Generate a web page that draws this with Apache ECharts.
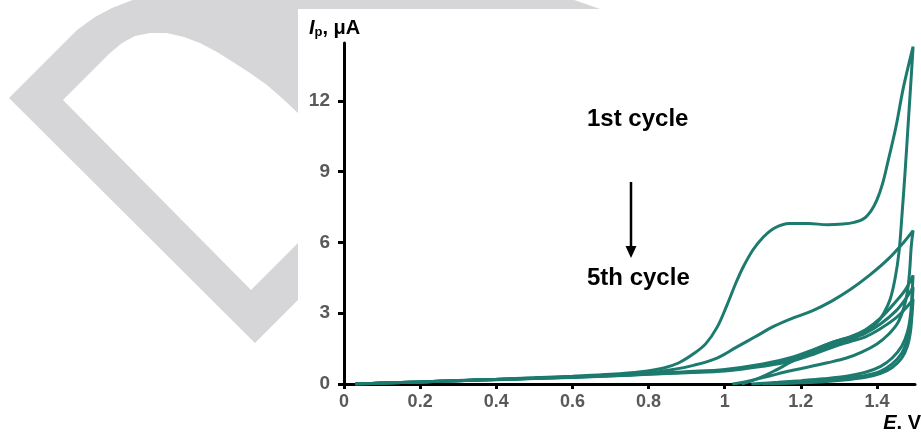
<!DOCTYPE html>
<html>
<head>
<meta charset="utf-8">
<script src="https://cdn.jsdelivr.net/npm/echarts@6/dist/echarts.min.js"></script>
<style>
html,body{margin:0;padding:0;background:#fff;}
#chart{width:921px;height:432px;}
</style>
</head>
<body>
<div id="chart"></div>
<script>
// ---- data: E (V) vs Ip (µA), five CV cycles ----
var cycle1Forward = [[0.03,0],[0.1,0.04],[0.2,0.09],[0.3,0.15],[0.4,0.2],[0.5,0.26],[0.6,0.33],[0.7,0.41],[0.78,0.52],[0.84,0.68],[0.88,0.9],[0.92,1.3],[0.95,1.7],[0.98,2.4],[1.005,3.3],[1.03,4.3],[1.05,5.0],[1.075,5.7],[1.1,6.2],[1.13,6.6],[1.17,6.8],[1.22,6.8],[1.27,6.75],[1.31,6.78],[1.34,6.85],[1.365,7.0],[1.385,7.35],[1.4,7.8],[1.415,8.5],[1.43,9.5],[1.45,10.9],[1.47,12.6],[1.495,14.3]];
var cycle1Reverse = [[1.49,13.0],[1.482,11.0],[1.474,9.0],[1.466,7.2],[1.458,5.6],[1.448,4.5],[1.435,3.6],[1.418,3.0],[1.4,2.6],[1.37,2.25],[1.33,2.0],[1.29,1.8],[1.25,1.55],[1.21,1.25],[1.17,0.9],[1.13,0.55],[1.09,0.25],[1.055,0.05],[1.045,0]];
var cycle2Forward = [[0.03,0],[0.1,0.04],[0.2,0.09],[0.3,0.14],[0.4,0.19],[0.5,0.25],[0.6,0.31],[0.7,0.38],[0.8,0.47],[0.86,0.6],[0.92,0.8],[0.98,1.1],[1.03,1.55],[1.08,2.0],[1.13,2.45],[1.18,2.8],[1.23,3.1],[1.28,3.5],[1.33,4.0],[1.38,4.6],[1.43,5.3],[1.47,6.0],[1.495,6.5]];
var cycle2Reverse = [[1.49,5.8],[1.486,4.8],[1.48,3.9],[1.47,3.2],[1.455,2.6],[1.43,2.1],[1.4,1.7],[1.36,1.35],[1.32,1.1],[1.27,0.9],[1.22,0.72],[1.17,0.55],[1.12,0.35],[1.07,0.15],[1.03,0.02],[1.02,0]];
var cycle3Forward = [[0.03,0],[0.1,0.04],[0.2,0.09],[0.3,0.14],[0.4,0.19],[0.5,0.24],[0.6,0.3],[0.7,0.36],[0.8,0.43],[0.9,0.52],[1.0,0.62],[1.1,0.85],[1.18,1.15],[1.24,1.5],[1.29,1.8],[1.33,2.0],[1.37,2.3],[1.41,2.8],[1.45,3.5],[1.475,4.0],[1.495,4.6]];
var cycle3Reverse = [[1.492,3.8],[1.488,2.9],[1.48,2.2],[1.465,1.6],[1.44,1.1],[1.41,0.75],[1.37,0.5],[1.32,0.33],[1.26,0.22],[1.2,0.14],[1.14,0.07],[1.09,0.02],[1.07,0]];
var cycle4Forward = [[0.03,0],[0.1,0.04],[0.2,0.09],[0.3,0.14],[0.4,0.19],[0.5,0.24],[0.6,0.29],[0.7,0.35],[0.8,0.42],[0.9,0.5],[1.0,0.58],[1.1,0.8],[1.18,1.05],[1.24,1.4],[1.29,1.7],[1.33,1.9],[1.37,2.15],[1.41,2.55],[1.45,3.1],[1.475,3.6],[1.495,4.1]];
var cycle4Reverse = [[1.492,3.3],[1.488,2.5],[1.48,1.9],[1.465,1.3],[1.44,0.85],[1.41,0.55],[1.37,0.36],[1.32,0.24],[1.26,0.15],[1.2,0.09],[1.14,0.04],[1.1,0]];
var cycle5Forward = [[0.03,0],[0.1,0.04],[0.2,0.09],[0.3,0.14],[0.4,0.18],[0.5,0.23],[0.6,0.28],[0.7,0.34],[0.8,0.41],[0.9,0.48],[1.0,0.55],[1.1,0.75],[1.18,0.98],[1.24,1.3],[1.29,1.6],[1.33,1.8],[1.37,2.0],[1.41,2.35],[1.45,2.8],[1.475,3.2],[1.495,3.6]];
var cycle5Reverse = [[1.492,2.9],[1.488,2.2],[1.48,1.6],[1.465,1.1],[1.44,0.7],[1.41,0.45],[1.37,0.28],[1.32,0.18],[1.26,0.1],[1.2,0.05],[1.15,0.02],[1.12,0]];

var xTicks = [0, 0.2, 0.4, 0.6, 0.8, 1, 1.2, 1.4];
var yTicks = [0, 3, 6, 9, 12];
var cycleLabels = ['1st cycle', '5th cycle'];

var cycles = [
  cycle1Forward.concat(cycle1Reverse),
  cycle2Forward.concat(cycle2Reverse),
  cycle3Forward.concat(cycle3Reverse),
  cycle4Forward.concat(cycle4Reverse),
  cycle5Forward.concat(cycle5Reverse)
];

var FONT = '"Liberation Sans", Arial, sans-serif';
var LINE = '#1d7a6e';
var GRAY = '#d6d5d7';

// decorative watermark shape behind the chart picture (page pixels)
var watermarkOuter = [[9,98],[77,30],[95,17],[112,8],[130,1],[150,-6],[250,-30],[450,-25],[560,-5],[600,9],[620,60],[620,420],[298,300],[255,343]];
var watermarkInner = [[63,100],[110,53],[122,43],[135,36],[150,33],[167,33],[184,37],[200,43],[217,52],[233,62],[250,73],[267,85],[283,99],[298,113],[330,150],[330,230],[298,243],[251,290]];

var chart = echarts.init(document.getElementById('chart'), null, {renderer: 'canvas'});

var series = cycles.map(function (d, i) {
  return {
    name: 'Cycle ' + (i + 1),
    type: 'line',
    data: d,
    smooth: 0.35,
    showSymbol: false,
    symbol: 'none',
    clip: true,
    lineStyle: {color: LINE, width: 3},
    z: 3
  };
});

chart.setOption({
  animation: false,
  backgroundColor: '#fff',
  grid: {left: 344, right: 6, top: 43, bottom: 48, containLabel: false},
  xAxis: {
    type: 'value', min: 0, max: 1.5,
    axisLine: {show: true, onZero: false, lineStyle: {color: '#000', width: 3}},
    axisTick: {show: true, customValues: xTicks, length: 5, inside: false, lineStyle: {color: '#000', width: 3}},
    axisLabel: {customValues: xTicks, color: '#595959', fontWeight: 'bold', fontSize: 18, fontFamily: FONT, margin: 9},
    splitLine: {show: false}
  },
  yAxis: {
    type: 'value', min: 0, max: 14.45,
    axisLine: {show: true, onZero: false, lineStyle: {color: '#000', width: 3}},
    axisTick: {show: true, customValues: yTicks, length: 6, lineStyle: {color: '#000', width: 3}},
    axisLabel: {customValues: yTicks, color: '#595959', fontWeight: 'bold', fontSize: 19, fontFamily: FONT, margin: 14},
    splitLine: {show: false}
  },
  graphic: [
    {type: 'polygon', z: -30, silent: true, shape: {points: watermarkOuter}, style: {fill: GRAY}},
    {type: 'polygon', z: -25, silent: true, shape: {points: watermarkInner}, style: {fill: '#fff'}},
    {type: 'rect', z: -10, silent: true, shape: {x: 298, y: 9, width: 640, height: 440}, style: {fill: '#fff'}},
    {type: 'text', z: 10, left: 309, top: 18,
     style: {text: '{i|I}{s|p}{n|, μA}', rich: {
       i: {fontFamily: FONT, fontWeight: 'bold', fontStyle: 'italic', fontSize: 20, fill: '#000'},
       s: {fontFamily: FONT, fontWeight: 'bold', fontSize: 13, fill: '#000', verticalAlign: 'bottom', padding: [9, 0, 0, 0]},
       n: {fontFamily: FONT, fontWeight: 'bold', fontSize: 20, fill: '#000'}
     }}},
    {type: 'text', z: 10, right: 0, top: 413,
     style: {text: '{i|E}{n|. V}', rich: {
       i: {fontFamily: FONT, fontWeight: 'bold', fontStyle: 'italic', fontSize: 20, fill: '#000'},
       n: {fontFamily: FONT, fontWeight: 'bold', fontSize: 20, fill: '#000'}
     }}},
    {type: 'text', z: 10, left: 587, top: 107,
     style: {text: cycleLabels[0], font: 'bold 24px ' + FONT, fill: '#000'}},
    {type: 'text', z: 10, left: 587, top: 266,
     style: {text: cycleLabels[1], font: 'bold 24px ' + FONT, fill: '#000'}},
    {type: 'line', z: 10, shape: {x1: 631, y1: 182, x2: 631, y2: 250}, style: {stroke: '#000', lineWidth: 2.5}},
    {type: 'polygon', z: 10, shape: {points: [[625.5, 246], [636.5, 246], [631, 258]]}, style: {fill: '#000'}}
  ],
  series: series
});
</script>
</body>
</html>
